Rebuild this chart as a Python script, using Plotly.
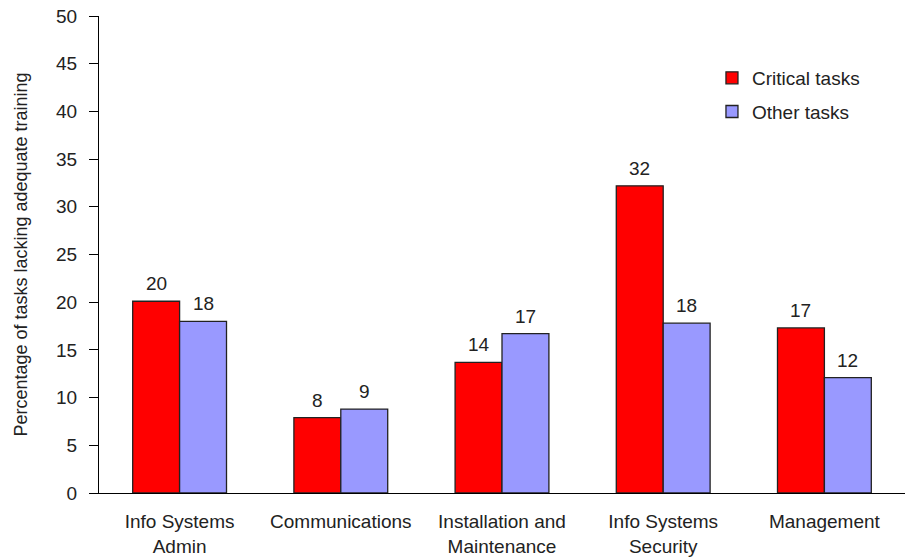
import plotly.graph_objects as go

categories = ["Info Systems<br>Admin", "Communications", "Installation and<br>Maintenance",
              "Info Systems<br>Security", "Management"]
critical = [20.1, 7.9, 13.7, 32.2, 17.3]
other = [18.0, 8.8, 16.7, 17.8, 12.1]

FONT = "Liberation Sans"
TXT = "#222222"
BAR_HALF = 23.5  # horizontal offset of each bar centre from its category centre, px

fig = go.Figure()
fig.add_trace(go.Bar(
    x=categories, y=critical, name="Critical tasks", legendgroup="a",
    marker=dict(color="#ff0000", line=dict(color="#222222", width=1.3)),
))
fig.add_trace(go.Bar(
    x=categories, y=other, name="Other tasks", legendgroup="b",
    marker=dict(color="#9999ff", line=dict(color="#222222", width=1.3)),
))

# value labels above each bar
for vals, shift in ((critical, -BAR_HALF), (other, BAR_HALF)):
    for cat, v in zip(categories, vals):
        fig.add_annotation(x=cat, y=v, text=f"{v:.0f}", showarrow=False,
                           xanchor="center", yanchor="bottom", xshift=shift, yshift=5,
                           font=dict(size=19, family=FONT, color=TXT))

fig.update_layout(
    width=905, height=559,
    margin=dict(l=99, r=0, t=16, b=66),
    plot_bgcolor="white", paper_bgcolor="white",
    barmode="group", bargap=0.418, bargroupgap=0,
    font=dict(family=FONT, size=19, color=TXT),
    showlegend=True,
    legend=dict(x=0.7605, y=0.91, xanchor="left", yanchor="top",
                bgcolor="rgba(0,0,0,0)", font=dict(size=19, family=FONT, color=TXT),
                itemwidth=30, tracegroupgap=6),
    xaxis=dict(showline=True, linecolor="black", linewidth=1, ticks="",
               ticklabelstandoff=11, automargin=False,
               tickfont=dict(size=19, family=FONT, color=TXT)),
    yaxis=dict(range=[0, 50], dtick=5, showline=True, linecolor="black", linewidth=1,
               ticks="outside", ticklen=9, tickcolor="black", showgrid=False, zeroline=False,
               ticklabelstandoff=8, automargin=False,
               tickfont=dict(size=19, family=FONT, color=TXT),
               title=dict(text="Percentage of tasks lacking adequate training",
                          font=dict(size=18, family=FONT, color=TXT), standoff=23)),
)

fig.write_html("out.html")
